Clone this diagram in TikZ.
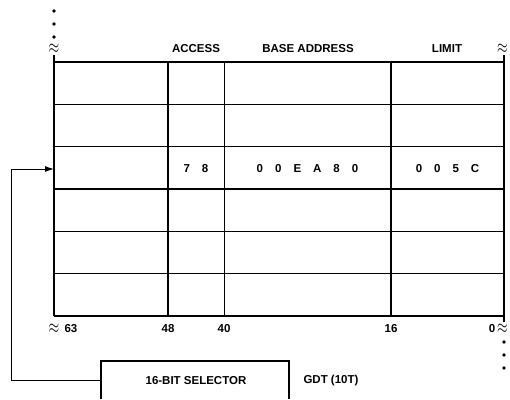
\documentclass[tikz,border=0pt]{standalone}
\usepackage{fontspec}
\setmainfont{Liberation Sans}
\usetikzlibrary{arrows.meta}
\newcommand{\gp}{\hspace{12pt}}
\newcommand{\brk}{\scalebox{0.95}[1.35]{$\approx$}}
\begin{document}
\begin{tikzpicture}[x=1pt,y=-1pt,
  lbl/.style={font=\fontsize{11.5}{13}\selectfont\bfseries, inner sep=0pt},
  grid/.style={line width=1.3pt},
  sq/.style={font=\fontsize{15}{15}\selectfont, inner sep=0pt},
  dotmark/.style={circle, fill=black, inner sep=0pt, minimum size=3.6pt}]
\useasboundingbox (0,0) rectangle (510,399);
% table rows
\foreach \y in {62,104.3,146.7,189,231.3,273.7,316}
  \draw[grid] (54,\y) -- (504,\y);
% vertical lines
\draw[grid] (54,55) -- (54,316);
\draw[grid] (504,55) -- (504,322);
\draw[grid] (168,62) -- (168,316);
\draw[grid] (224.5,62) -- (224.5,316);
\draw[grid] (391,62) -- (391,316);
% break marks
\node[sq] (sqtl) at (54,49) {\brk};
\node[sq] (sqtr) at (502.5,49) {\brk};
\node[sq] (sqbl) at (54,329) {\brk};
\node[sq] (sqbr) at (502.5,329) {\brk};
\node[dotmark] (d1) at (54,11) {};
\node[dotmark] (d2) at (54,24) {};
\node[dotmark] (d3) at (54,37) {};
\node[dotmark] (d4) at (504,342) {};
\node[dotmark] (d5) at (504,355) {};
\node[dotmark] (d6) at (504,368) {};
% headers
\node[lbl] (hacc) at (196,49) {ACCESS};
\node[lbl] (hbase) at (308,49) {BASE ADDRESS};
\node[lbl] (hlim) at (447,49) {LIMIT};
% bit numbers
\node[lbl] (b63) at (71,329) {63};
\node[lbl] (b48) at (168,329) {48};
\node[lbl] (b40) at (224,329) {40};
\node[lbl] (b16) at (391,329) {16};
\node[lbl] (b0) at (492,329) {0};
% values
\node[lbl] (vacc) at (196,169) {7\gp 8};
\node[lbl] (vbase) at (307.5,169) {0\gp 0\gp E\gp A\gp 8\gp 0};
\node[lbl] (vlim) at (447.5,169) {0\gp 0\gp 5\gp C};
% selector box (open at bottom)
\coordinate (selbl) at (101,399);
\coordinate (selbr) at (289,399);
\coordinate (selw) at (101,380);
\draw[line width=1.2pt] (selbl) |- (289,361) -- (selbr);
\node[lbl] (sel) at (196,381) {16-BIT SELECTOR};
\node[lbl] (gdt) at (331,381) {GDT (10T)};
% connector
\coordinate (entry) at (54,169);
\draw[line width=1pt, -{Latex[length=9pt,width=6pt]}] (selw) -- (11,380) -- (11,169) -- (entry);
\end{tikzpicture}
\end{document}
